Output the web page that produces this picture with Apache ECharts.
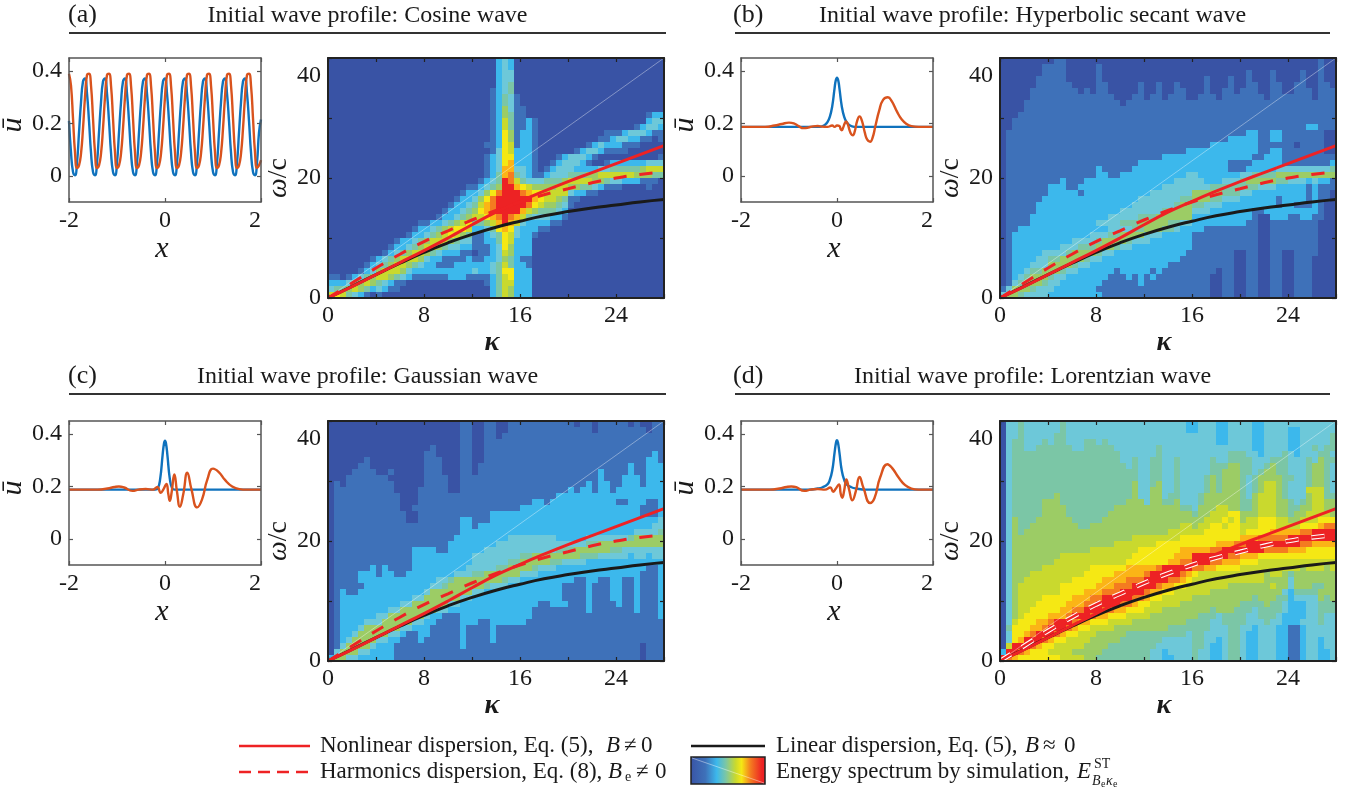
<!DOCTYPE html>
<html>
<head>
<meta charset="utf-8">
<title>Initial wave profiles</title>
<script src="https://cdn.jsdelivr.net/npm/echarts@6/dist/echarts.min.js"></script>
<style>
html, body { margin: 0; padding: 0; background: #fff; }
#chart { width: 1348px; height: 789px; }
</style>
</head>
<body>
<div id="chart"></div>
<script>
// dispersion curves, same in all four panels
const kappa = [0, 2, 4, 6, 8, 10, 12, 14, 16, 18, 20, 22, 24, 26, 28]
const nonlinearOmega = [0, 1.9, 3.9, 5.9, 7.9, 10, 12.2, 14.3, 16.1, 17.8, 19.4, 20.9, 22.4, 23.9, 25.4]
const harmonicOmega = [0, 2.5, 5, 7.3, 9.4, 11.2, 13, 14.6, 16, 17.2, 18.2, 19.2, 20, 20.6, 21]
const linearOmega = [0, 1.95, 3.9, 5.8, 7.6, 9.2, 10.6, 11.8, 12.8, 13.7, 14.4, 15, 15.5, 16, 16.4]
const lightLineKappa = [0, 28]
const lightLineOmega = [0, 40]

// wave profiles, x step is 1/24
const cosBlue = [
  .21, .09, .015, .002, .05, .165, .28, .36, .372, .315,
  .21, .09, .015, .002, .05, .165, .28, .36, .372, .315,
  .21, .09, .015, .002, .05, .165, .28, .36, .372, .315,
  .21, .09, .015, .002, .05, .165, .28, .36, .372, .315,
  .21, .09, .015, .002, .05, .165, .28, .36, .372, .315,
  .21, .09, .015, .002, .05, .165, .28, .36, .372, .315,
  .21, .09, .015, .002, .05, .165, .28, .36, .372, .315,
  .21, .09, .015, .002, .05, .165, .28, .36, .372, .315,
  .21, .09, .015, .002, .05, .165, .28, .36, .372, .315,
  .21, .09, .015, .002, .05, .165, .215
]
const cosOrange = [
  .39, .345, .22, .09, .03, .04, .085, .18, .30, .385,
  .39, .345, .22, .09, .03, .04, .085, .18, .30, .385,
  .39, .345, .22, .09, .03, .04, .085, .18, .30, .385,
  .39, .345, .22, .09, .03, .04, .085, .18, .30, .385,
  .39, .345, .22, .09, .03, .04, .085, .18, .30, .385,
  .39, .345, .22, .09, .03, .04, .085, .18, .30, .385,
  .39, .345, .22, .09, .03, .04, .085, .18, .30, .385,
  .39, .345, .22, .09, .03, .04, .085, .18, .30, .385,
  .39, .345, .22, .09, .03, .04, .085, .18, .30, .385,
  .39, .345, .22, .09, .03, .04, .06
]

const sechBlueX = [-2, -.4, -.3, -.25, -.2, -.15, -.1, -.05, -.025, 0, .025, .05, .1, .15, .2, .25, .3, .4, 2]
const sechBlueY = [.187, .187, .19, .195, .205, .225, .265, .335, .365, .375, .365, .335, .265, .225, .205, .195, .19, .187, .187]
const sechOrangeX = [-2, -1.5, -1.3, -1.15, -1, -.9, -.8, -.7, -.6, -.5, -.4, -.3, -.2, -.1, -.05, 0, .05, .08, .1, .13, .16, .19, .22, .26, .3, .33, .37, .42, .47, .52, .58, .63, .69, .74, .8, .88, .96, 1.06, 1.14, 1.25, 1.35, 1.45, 1.55, 1.7, 2]
const sechOrangeY = [.187, .187, .192, .198, .203, .2, .19, .182, .184, .189, .19, .188, .187, .192, .187, .192, .19, .177, .174, .185, .2, .208, .2, .175, .158, .155, .17, .21, .227, .21, .165, .138, .13, .145, .19, .25, .29, .3, .285, .245, .215, .198, .19, .187, .187]

const gaussBlueX = [-2, -.2, -.15, -.1, -.05, -.02, 0, .02, .05, .1, .15, .2, 2]
const gaussBlueY = [.188, .188, .192, .23, .32, .365, .375, .365, .32, .23, .192, .188, .188]
const gaussOrangeX = [-2, -1.4, -1.2, -1.05, -.96, -.85, -.68, -.55, -.4, -.25, -.16, -.09, -.03, .03, .07, .1, .14, .195, .25, .31, .38, .465, .55, .67, .77, .88, 1, 1.12, 1.25, 1.4, 1.55, 1.7, 2]
const gaussOrangeY = [.188, .188, .192, .198, .2, .196, .183, .188, .19, .188, .198, .176, .19, .21, .17, .145, .18, .246, .18, .122, .17, .253, .19, .12, .15, .225, .268, .255, .225, .2, .19, .188, .188]

const lorentzBlueX = [-2, -.6, -.4, -.3, -.2, -.15, -.1, -.05, -.02, 0, .02, .05, .1, .15, .2, .3, .4, .6, 2]
const lorentzBlueY = [.188, .188, .192, .197, .208, .225, .26, .33, .368, .377, .368, .33, .26, .225, .208, .197, .192, .188, .188]
const lorentzOrangeX = [-2, -1.4, -1.2, -1.05, -.95, -.85, -.68, -.55, -.4, -.25, -.14, -.08, -.03, .04, .08, .11, .15, .195, .25, .32, .39, .47, .55, .69, .78, .9, 1.05, 1.15, 1.28, 1.42, 1.55, 1.7, 2]
const lorentzOrangeY = [.188, .188, .192, .198, .2, .197, .183, .188, .19, .188, .196, .18, .19, .208, .17, .157, .185, .227, .19, .147, .18, .236, .195, .137, .155, .235, .285, .27, .235, .205, .192, .188, .188]

// spectrum contour levels (0-a), one row per omega from 39 down to 0,
// one char per half kappa, groups of eight are the 4-unit tick spacing
const specA = [
  '00000000 00000000 00000000 00002320 00000000 00000000 00000000',
  '00000000 00000000 00000000 00002320 00000000 00000000 00000000',
  '00000000 00000000 00000000 00002330 00000000 00000000 00000000',
  '00000000 00000000 00000000 00002330 00000000 00000000 00000000',
  '00000000 00000000 00000000 00002340 00000000 00000000 00000000',
  '00000000 00000000 00000000 00012340 00000000 00000000 00000000',
  '00000000 00000000 00000000 00012431 00000000 00000000 00000000',
  '00000000 00000000 00000000 00012431 00000000 00000000 00000000',
  '00000000 00000000 00000000 00012531 10000000 00000000 00000000',
  '00000000 00000000 00000000 00012541 10000000 00000000 00000122',
  '00000000 00000000 00000000 00012641 12100000 00000000 00000233',
  '00000000 00000000 00000000 00012641 12100000 00000000 00012332',
  '00000000 00000000 00000000 00012751 22100000 00000011 12333211',
  '00000000 00000000 00000000 00012751 22100000 00000112 33221101',
  '00000000 00000000 00000000 00112761 22100000 00012322 21110000',
  '00000000 00000000 00000000 00013762 22100000 01233211 11000000',
  '00000000 00000000 00000000 00123772 22100012 33321000 00000001',
  '00000000 00000000 00000000 00123782 22100123 33210012 22222333',
  '00000000 00000000 00000000 00123883 32101233 32222334 44445666',
  '00000000 00000000 00000000 00124894 32112333 44455666 66655544',
  '00000000 00000000 00000000 01234a96 43334445 66665543 32221110',
  '00000000 00000000 00000001 12345aa8 76555566 55443211 10000100',
  '00000000 00000000 00000012 23579aaa 98776666 32211000 00000000',
  '00000000 00000000 00000122 3579aaaa aa876654 11000000 00000000',
  '00000000 00000000 00001223 4689aaaa a9765543 10000000 00000000',
  '00000000 00000000 00012234 5789aaaa 86544432 00000000 00000000',
  '00000000 00000000 00122345 66789a98 64333221 00000000 00000000',
  '00000000 00000001 12234567 44568a86 32222110 00000000 00000000',
  '00000000 00000012 23456776 22347873 22211000 00000000 00000000',
  '00000000 00000122 34567654 11234763 22100000 00000000 00000000',
  '00000000 00012234 56665433 11224762 22000000 00000000 00000000',
  '00000000 00122345 66543322 11123752 22000000 00000000 00000000',
  '00000000 01234566 54322211 01123652 22000000 00000000 00000000',
  '00000001 23456665 32211112 11223542 11000000 00000000 00000000',
  '00000012 34566543 22111222 22234642 21000000 00000000 00000000',
  '00000123 56665322 22222222 32234772 22000000 00000000 00000000',
  '11012345 66543211 11112221 11124672 22000000 00000000 00000000',
  '22234565 43211000 00000000 00124662 22000000 00000000 00000000',
  '34456542 32110000 00000000 00024652 22000000 00000000 00000000',
  '67643210 10000000 00000000 00024652 22000000 00000000 00000000'
]

const specB = [
  '00000000 01100000 00000000 00000000 00000000 00000000 00000100',
  '00000001 11100000 10000000 00000000 00000000 00000000 00000100',
  '00000001 11100000 10000000 00000000 00000000 01000100 00100100',
  '00000011 11100000 10000000 00000000 00100010 01000100 00100100',
  '00000011 11110000 11000001 00100100 00100010 01100110 01100110',
  '00000111 11111010 11000001 00100110 00100110 11100110 01110111',
  '00000111 11111111 11100011 01101110 01110111 11110111 11110111',
  '00001111 11111111 11110111 11111111 11111111 11111111 11111111',
  '00001111 11111111 11111111 11111111 11111111 11111111 11111111',
  '00011111 11111111 11111111 11111111 11111111 11111111 11111111',
  '00111111 11111111 11111111 11111111 11111111 11111111 11111111',
  '00111111 11111111 11111111 11111111 11111111 11111111 11122111',
  '01111111 11111111 11111111 11111111 11111111 12211221 11111100',
  '01111111 11111111 11111111 11111111 11111122 22211221 11111100',
  '01111111 11111111 11111111 11111111 11122222 22211111 10111100',
  '01111111 11111111 11111111 11111112 22222222 22211221 11111100',
  '01111111 11111111 11111111 11122222 22222222 22112221 11111111',
  '01111111 11111111 11111112 22222222 22222211 11222221 11111112',
  '01111111 11111111 21111122 22222222 22222211 12222233 33333334',
  '01111111 11111111 22112222 22222223 32222222 33444455 55555555',
  '01111111 11211122 22222222 22222333 33222333 45555544 33323221',
  '01111111 22211222 22222222 22233333 33344444 44433322 22212111',
  '01111111 22222122 22222222 23333333 55555444 33222222 22212110',
  '01111112 22222222 22222223 33333344 55544333 22222212 22212110',
  '01111122 22222222 22222233 33333455 44333222 22222212 21112100',
  '01111122 22222222 22223333 33345555 33322222 22112222 22222100',
  '01111222 22222222 22333334 44555555 22222222 22100222 11221100',
  '01111222 22222222 33334445 55554433 22222222 21100111 11111000',
  '01122222 22222222 22333344 55544322 22111111 11100111 11111000',
  '01222222 22222223 33445555 33322222 11111111 11100111 11111000',
  '01222222 22223333 45555433 32222222 11111111 11100111 11111000',
  '01222222 22333444 55543322 22222222 11111111 11100111 11111000',
  '01222223 33345555 43322222 22222221 11111110 01100110 01111000',
  '01222233 44555543 32222222 22222211 11111110 01100110 01110000',
  '01222333 55554332 22222222 22221111 11111110 01100110 01110000',
  '01223445 55433222 22212222 21211111 11110110 01100110 01110000',
  '01234555 43322222 22111212 12111111 11100110 01100110 01110000',
  '01345554 33222222 21111112 11111111 11100110 01100110 01110000',
  '13555433 32222222 11111111 11111111 11100110 01100110 01110000',
  '35543333 22222222 21111111 11111111 11100110 01100110 01110000'
]

const specC = [
  '00000000 00000000 00000011 00110011 11111111 10110111 11010011',
  '00000000 00000000 00000011 00110011 11111111 11110111 11111011',
  '00000000 00000000 00000011 00110111 11111111 11111111 11111111',
  '00000000 00000000 00000011 00111111 11111111 11111111 11111111',
  '00000000 00000000 01000011 00111111 11111111 11111111 11111111',
  '00000000 00000000 11000011 00111111 11111111 11111111 11111121',
  '00000010 00000000 11100011 00111111 11111111 11111111 11111221',
  '00000110 00000000 11100011 01111111 11111111 11111111 11211222',
  '00001111 00100000 11100011 01111111 11111111 11111211 11211222',
  '00011111 11000000 11110011 11111111 11111111 11111211 12221222',
  '01011111 11100000 11110011 11111111 11111111 11121221 12221222',
  '01111111 11100001 11110011 11111111 11111111 21221221 22222222',
  '01111111 11110001 11111111 11111111 11111122 22222222 22222222',
  '01111111 11110001 11111111 11111111 11221222 22222222 11222112',
  '01111111 11110011 11111111 11111111 22222222 22222222 22221112',
  '01111111 11111001 11111111 11122222 22222222 22222222 22221112',
  '01111111 11111001 11111122 11122222 22222222 22222222 22222223',
  '01111111 11111111 11111122 12222222 22222222 22222222 22222233',
  '01111111 11111111 11111122 22222222 22222222 22222222 22233334',
  '01111111 11111111 11111222 22222233 33333322 22233333 33455555',
  '01111111 11111111 11112222 22223333 33333333 33344555 55555555',
  '01111111 11111122 22112222 22333333 33333344 45555554 43333333',
  '01111111 11111122 22222222 33333333 44555555 55444333 33233233',
  '01111111 11111122 22222222 33333344 55555443 33322222 22222222',
  '01111112 12111122 22222223 33334455 55433322 22222222 22222112',
  '01111222 12211222 22222333 44555555 33322222 22222222 22221112',
  '01111222 22222222 22334555 55555433 22222222 21122112 21121112',
  '01111122 22222222 23345555 55433322 22222221 11121112 21121112',
  '01211222 22222222 35555555 33222222 22222221 11121112 21121112',
  '01222222 22222233 55555533 22222222 22222221 11121112 21121112',
  '01222222 22223355 55553322 22222222 22211222 11121111 21121112',
  '01222222 22335555 55332222 22222222 22111111 11121111 11121112',
  '01222222 33555555 32211122 22222222 22111111 11111111 11111112',
  '01222233 35555533 22111122 21122222 21111111 11111111 11111111',
  '01222355 55553322 21111121 11121111 11111111 11111111 11111111',
  '01223555 55332112 21111121 11121111 11111111 11111111 11111111',
  '01235555 33221112 11111121 11121111 11111111 11111111 11111111',
  '01355553 22211111 11111121 11111111 11111111 11111111 11110111',
  '03555332 22211111 11111111 11111111 11111111 11111111 11110111',
  '25533222 22211111 11111111 11111111 11111111 11111111 11110111'
]

const specD = [
  '03343333 33433333 33333333 33333332 23332233 33223333 33333333',
  '03343333 33433333 33333333 33333332 23332233 33223333 22333333',
  '03343333 34433333 33333333 33333333 33332233 33223333 22333334',
  '03443334 34433344 34333333 33333333 33332233 33223333 22333334',
  '03443344 44443344 44433333 33433333 33333333 33223333 22334344',
  '03444444 44444444 44443333 33433333 33333344 43323334 32333443',
  '03444444 44444444 44443343 34433433 33343344 44333444 33343544',
  '03444444 44444444 44444343 34433433 33344455 44334544 33345543',
  '03444444 44444444 44444443 34433433 33344555 44345544 33345543',
  '03444444 44444444 44444443 34433433 33454555 43455554 43345543',
  '03444444 44444444 44444453 34533433 33454555 43456654 33345543',
  '03444444 44444444 44444453 35533433 33454555 43456654 33366643',
  '03444444 45444444 44444453 35534433 34555555 43566654 33356644',
  '03444445 55444444 44444555 35544533 34555555 44566655 43456655',
  '03444445 55544444 44455555 55555544 35556655 44566655 44556655',
  '03444445 55544444 44555555 55555555 45566677 55566655 45566665',
  '03544455 55554444 45555555 55555555 55666767 56677766 55666777',
  '03544555 55555445 55555555 55555566 56677677 66677766 66777899',
  '03545555 55555555 55555555 55556666 66777777 67777888 8899aaaa',
  '03555555 55555555 55555566 66666677 77777777 88899999 aaaaaaaa',
  '03555555 55555555 55566666 66777777 77778889 9aaaaaaa aa998888',
  '03555555 55555556 66666667 77777788 88899aaa aaaa9999 88877777',
  '03555555 55666666 66666677 77777888 aaaaaa99 88877777 77777777',
  '03555555 56666666 66666777 77778899 aaa99888 77766666 66666666',
  '03555556 66666667 77777888 889aaaaa 99887777 66666666 66566656',
  '03555666 66666677 77788888 9aaaaa98 76666666 66665665 45555555',
  '03556666 66667777 78888999 aaaa9987 66666666 66665555 35555555',
  '03566666 66777777 888999aa aa988776 66666655 55555655 35554455',
  '03566666 66777788 8999aaaa 98877666 66655555 55555553 24444555',
  '03566667 77778889 9aaaaa99 87766666 55555555 55455544 23333545',
  '03566677 77788899 aaaa9987 76666655 55555555 44445443 22233444',
  '03566777 778899aa a9988777 66655555 55545554 44344443 22233444',
  '03567777 8889aaa9 88777666 65555555 54443444 43344432 22233433',
  '03677788 9aaa9887 77666655 55555554 44433444 43334332 22333433',
  '04777889 aaa98776 66655555 55554444 44433344 33233322 11233333',
  '037789aa a9877666 55555444 44444443 44333344 32233322 11233333',
  '0378aaa9 87766665 55554444 44433333 44332344 32233322 11233233',
  '06aaa987 76666655 55444444 44333333 44322344 32233322 11233233',
  '2aa98777 66665555 54444444 43323333 43322344 32233322 11233223',
  'a9877777 77666655 44444444 43322333 43322344 32233322 11233223'
]

const levelColors = ['#3953a5', '#3e71b9', '#3cb8ec', '#6dc8d9', '#7bc6a6', '#9ccc65', '#c9d92e', '#f5e814', '#fbb416', '#f47b20', '#ed2224']

const panelTitles = [
  'Initial wave profile: Cosine wave',
  'Initial wave profile: Hyperbolic secant wave',
  'Initial wave profile: Gaussian wave',
  'Initial wave profile: Lorentzian wave'
]
const panelLetters = ['(a)', '(b)', '(c)', '(d)']
const titleCenters = [367.5, 1032.5, 367.5, 1032.5]

const serif = '"Liberation Serif", "Times New Roman", serif'

// [left, top] of each sub plot
const waveGrids = [[69, 58], [741, 58], [69, 421], [741, 421]]
const specGrids = [[328, 58], [1000, 58], [328, 421], [1000, 421]]

const xAxes = []
const yAxes = []
const grids = []
const series = []

function toPairs (xs, ys) {
  return xs.map((x, i) => [x, ys[i]])
}

function specCells (rows) {
  const cells = []
  rows.forEach((row, r) => {
    const chars = row.replace(/ /g, '')
    for (let c = 0; c < chars.length; c++) {
      cells.push([c * 0.5, 39 - r, parseInt(chars[c], 16)])
    }
  })
  return cells
}

function renderCell (params, api) {
  const p0 = api.coord([api.value(0), api.value(1) + 1])
  const p1 = api.coord([api.value(0) + 0.5, api.value(1)])
  return {
    type: 'rect',
    shape: { x: p0[0], y: p0[1], width: p1[0] - p0[0], height: p1[1] - p0[1] },
    style: { fill: levelColors[api.value(2)] }
  }
}

// one grid with a box of four axes, returns the axis index to hang series on
function addBox (rect, x, y) {
  const gridIndex = grids.length
  // outerBoundsMode none, otherwise v6 shrinks the grid when a name gets near the page edge
  grids.push({ left: rect[0], top: rect[1], width: rect[2], height: rect[3], outerBoundsMode: 'none' })
  const line = { show: true, onZero: false, lineStyle: { color: x.frame, width: x.frameWidth } }
  const tick = len => ({ show: true, inside: true, length: len, lineStyle: { color: x.frame, width: 1.2 } })
  const xIndex = xAxes.length
  const yIndex = yAxes.length
  const base = { gridIndex, type: 'value', z: 5, splitLine: { show: false } }
  xAxes.push({
    ...base, position: 'bottom', min: x.min, max: x.max, axisLine: line,
    axisTick: { ...tick(4), customValues: x.ticks },
    axisLabel: { customValues: x.labels, margin: x.margin, fontFamily: serif, fontSize: 24, color: '#1a1a1a', alignMaxLabel: x.alignMax, showMinLabel: true, showMaxLabel: true, hideOverlap: false },
    name: x.name, nameLocation: 'middle', nameGap: x.nameGap,
    nameTextStyle: { fontFamily: serif, fontSize: x.nameSize, fontStyle: 'italic', fontWeight: x.nameWeight, color: '#1a1a1a', padding: x.namePadding }
  })
  xAxes.push({
    ...base, position: 'top', min: x.min, max: x.max, axisLine: line,
    axisTick: { ...tick(4), customValues: x.ticks }, axisLabel: { show: false }
  })
  yAxes.push({
    ...base, position: 'left', min: y.min, max: y.max, axisLine: line,
    axisTick: { ...tick(4), customValues: y.ticks },
    axisLabel: { customValues: y.labels, margin: 7, fontFamily: serif, fontSize: 24, color: '#1a1a1a', verticalAlignMaxLabel: y.alignMax, lineHeight: y.lineHeight, showMinLabel: true, showMaxLabel: true, hideOverlap: false },
    name: y.name, nameLocation: 'middle', nameGap: y.nameGap, nameRotate: 90,
    nameTextStyle: y.nameStyle
  })
  yAxes.push({
    ...base, position: 'right', min: y.min, max: y.max, axisLine: line,
    axisTick: { ...tick(4), customValues: y.ticks }, axisLabel: { show: false }
  })
  return { xAxisIndex: xIndex, yAxisIndex: yIndex }
}

function addWave (i, blueX, blueY, orangeX, orangeY) {
  const g = waveGrids[i]
  const idx = addBox([g[0], g[1], 192, 144], {
    min: -2, max: 2, ticks: [-2, 0, 2], labels: [-2, 0, 2], margin: 7, alignMax: 'right',
    frame: '#555', frameWidth: 1.5, name: 'x', nameGap: 29, nameSize: 30, namePadding: [0, 6, 0, 0]
  }, {
    min: -0.1, max: 0.45, ticks: [0, 0.2, 0.4], labels: [0, 0.2, 0.4],
    frame: '#555', frameWidth: 1.5, name: 'ū', nameGap: 38,
    nameStyle: { fontFamily: serif, fontSize: 30, fontStyle: 'italic', color: '#1a1a1a', padding: [0, 0, 0, 10] }
  })
  const common = { ...idx, type: 'line', showSymbol: false, smooth: 0.5, z: 3 }
  series.push({ ...common, data: toPairs(blueX, blueY), lineStyle: { color: '#0f72bd', width: 2.4 } })
  series.push({ ...common, data: toPairs(orangeX, orangeY), lineStyle: { color: '#d9531e', width: 2.4 } })
}

function addSpec (i, rows, outlinedDash) {
  const g = specGrids[i]
  const idx = addBox([g[0], g[1], 336, 240], {
    min: 0, max: 28, ticks: [0, 4, 8, 12, 16, 20, 24, 28], labels: [0, 8, 16, 24], margin: 6,
    frame: '#222', frameWidth: 2, name: 'κ', nameGap: 25, nameSize: 28, nameWeight: 'bold', namePadding: [0, 8, 0, 0]
  }, {
    min: 0, max: 40, ticks: [0, 10, 20, 30, 40], labels: [0, 20, 40], alignMax: 'top', lineHeight: 36,
    frame: '#222', frameWidth: 2,
    name: '{w|ω}{c|/c}', nameGap: 33,
    nameStyle: {
      rich: {
        w: { fontFamily: serif, fontSize: 28, fontStyle: 'italic', color: '#1a1a1a' },
        c: { fontFamily: serif, fontSize: 28, color: '#1a1a1a' }
      }
    }
  })
  series.push({
    ...idx, type: 'custom', data: specCells(rows), renderItem: renderCell,
    encode: { x: 0, y: 1 }, silent: true, z: 1
  })
  const common = { ...idx, type: 'line', showSymbol: false, smooth: 0.5, z: 3 }
  series.push({ ...common, data: toPairs(lightLineKappa, lightLineOmega), lineStyle: { color: 'rgba(255,255,255,0.55)', width: 0.7 } })
  series.push({ ...common, data: toPairs(kappa, linearOmega), lineStyle: { color: '#1a1a1a', width: 3 } })
  series.push({ ...common, data: toPairs(kappa, nonlinearOmega), lineStyle: { color: '#ee2224', width: 3 } })
  if (outlinedDash) {
    series.push({ ...common, data: toPairs(kappa, harmonicOmega), lineStyle: { color: '#fff', width: 4.5, type: [13, 13] } })
    series.push({ ...common, data: toPairs(kappa, harmonicOmega), lineStyle: { color: '#ee2224', width: 2.4, type: [13, 13] } })
  } else {
    series.push({ ...common, data: toPairs(kappa, harmonicOmega), lineStyle: { color: '#ee2224', width: 3, type: [13, 13] } })
  }
}

const cosX = cosBlue.map((v, i) => -2 + i / 24)
addWave(0, cosX, cosBlue, cosX, cosOrange)
addWave(1, sechBlueX, sechBlueY, sechOrangeX, sechOrangeY)
addWave(2, gaussBlueX, gaussBlueY, gaussOrangeX, gaussOrangeY)
addWave(3, lorentzBlueX, lorentzBlueY, lorentzOrangeX, lorentzOrangeY)
addSpec(0, specA, false)
addSpec(1, specB, false)
addSpec(2, specC, false)
addSpec(3, specD, true)

// panel headers and the hand made legend
const ruleLines = [[69, 666, 33], [735, 1330, 33], [69, 666, 394], [735, 1330, 394]]
const letterPos = [[68, 2], [733, 2], [68, 363], [733, 363]]
const graphics = []
ruleLines.forEach(r => {
  graphics.push({ type: 'line', shape: { x1: r[0], y1: r[2], x2: r[1], y2: r[2] }, style: { stroke: '#333', lineWidth: 2 } })
})
letterPos.forEach((p, i) => {
  graphics.push({ type: 'text', x: p[0], y: p[1], style: { text: panelLetters[i], font: '26px ' + serif, fill: '#1a1a1a' } })
})

function legendText (x, y, text, size, italic) {
  graphics.push({ type: 'text', x, y, style: { text, font: (italic ? 'italic ' : '') + size + 'px ' + serif, fill: '#1a1a1a', verticalAlign: 'middle' } })
}
function legendLine (x1, x2, y, color, dash) {
  graphics.push({ type: 'line', shape: { x1, y1: y, x2, y2: y }, style: { stroke: color, lineWidth: 2.6, lineDash: dash } })
}
legendLine(239, 310, 746, '#ee2224')
legendLine(239, 310, 772, '#ee2224', [12, 7])
legendLine(691, 765, 746, '#1a1a1a')
legendText(320, 746, 'Nonlinear dispersion, Eq. (5),', 23)
legendText(320, 772, 'Harmonics dispersion, Eq. (8),', 23)
legendText(776, 746, 'Linear dispersion, Eq. (5),', 23)
legendText(776, 772, 'Energy spectrum by simulation,', 23)
legendText(606, 746, 'B', 23, true)
legendText(624, 746, '≠', 23)
legendText(641, 746, '0', 23)
legendText(608, 772, 'B', 23, true)
legendText(625, 777, 'e', 14)
legendText(636, 772, '≠', 23)
legendText(655, 772, '0', 23)
legendText(1025, 746, 'B', 23, true)
legendText(1043, 746, '≈', 23)
legendText(1064, 746, '0', 23)
legendText(1077, 772, 'E', 23, true)
legendText(1094, 764, 'ST', 14)
legendText(1092, 781, 'B', 14, true)
legendText(1101, 784, 'e', 10)
legendText(1106, 781, 'κ', 14, true)
legendText(1113, 784, 'e', 10)
graphics.push({
  type: 'rect',
  shape: { x: 691, y: 757, width: 74, height: 27 },
  style: {
    stroke: '#222',
    lineWidth: 1.5,
    fill: {
      type: 'linear', x: 0, y: 0, x2: 1, y2: 0,
      colorStops: [
        { offset: 0, color: '#3953a5' }, { offset: 0.2, color: '#3e71b9' }, { offset: 0.35, color: '#3cb8ec' },
        { offset: 0.47, color: '#7bc6a6' }, { offset: 0.6, color: '#c9d92e' }, { offset: 0.68, color: '#f5e814' },
        { offset: 0.8, color: '#f47b20' }, { offset: 0.95, color: '#ed2224' }, { offset: 1, color: '#ed2224' }
      ]
    }
  }
})
graphics.push({ type: 'line', shape: { x1: 692, y1: 758, x2: 764, y2: 783 }, style: { stroke: 'rgba(255,255,255,0.6)', lineWidth: 0.7 } })

const chart = echarts.init(document.getElementById('chart'), null, { renderer: 'canvas' })
chart.setOption({
  animation: false,
  backgroundColor: '#fff',
  title: panelTitles.map((text, i) => ({
    text,
    left: titleCenters[i],
    top: i < 2 ? 4 : 365,
    textAlign: 'center',
    padding: 0,
    textStyle: { fontFamily: serif, fontSize: 24, fontWeight: 'normal', color: '#1a1a1a' }
  })),
  grid: grids,
  xAxis: xAxes,
  yAxis: yAxes,
  series,
  graphic: graphics
})
</script>
</body>
</html>
